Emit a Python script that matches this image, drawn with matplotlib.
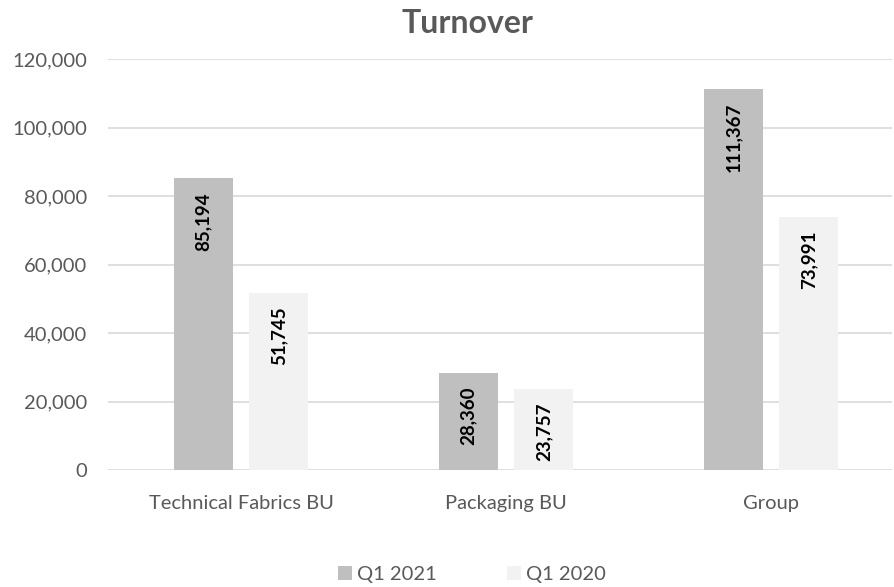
import matplotlib.pyplot as plt
import numpy as np

# data
categories = ['Technical Fabrics BU', 'Packaging BU', 'Group']
series_names = ['Q1 2021', 'Q1 2020']
q1_2021 = [85194, 28360, 111367]
q1_2020 = [51745, 23757, 73991]
yticks = [0, 20000, 40000, 60000, 80000, 100000, 120000]

colors = ['#BFBFBF', '#F2F2F2']
txt_col = '#595959'
plt.rcParams['font.family'] = ['Lato', 'DejaVu Sans']

fig = plt.figure(figsize=(8.94, 5.87), dpi=100)
ax = fig.add_axes([0.1208, 0.1993, 0.877, 0.700])

x = np.arange(len(categories))
w = 0.225
off = 0.142

for vals, c, sign, name in [(q1_2021, colors[0], -1, series_names[0]),
                            (q1_2020, colors[1], 1, series_names[1])]:
    ax.bar(x + sign * off, vals, width=w, color=c, label=name, zorder=3)
    for xi, v in zip(x, vals):
        ax.annotate(f'{v:,}', (xi + sign * off, v), xytext=(0, -10),
                    textcoords='offset points', rotation=90,
                    ha='center', va='top', fontsize=13.5, fontweight='bold',
                    color='black', zorder=4)

ax.set_ylim(0, 120000)
ax.set_xlim(-0.502, 2.457)
ax.set_yticks(yticks)
ax.set_yticklabels([f'{t:,}' for t in yticks])
ax.set_xticks(x)
ax.set_xticklabels(categories)
ax.tick_params(axis='both', length=0, labelsize=14.5, colors=txt_col)
ax.tick_params(axis='x', pad=18)
ax.tick_params(axis='y', pad=15)
ax.grid(axis='y', color='#D9D9D9', linewidth=1.2, zorder=0)
for s in ax.spines.values():
    s.set_visible(False)

fig.text(0.523, 0.960, 'Turnover', ha='center', va='center',
         fontsize=23, fontweight='bold', color=txt_col)

leg = fig.legend(loc='center', bbox_to_anchor=(0.528, 0.022), ncol=2,
                 frameon=False, fontsize=14.5, handlelength=0.7,
                 handleheight=0.7, handletextpad=0.25, columnspacing=3.5)
for t in leg.get_texts():
    t.set_color(txt_col)

plt.savefig('out.png', dpi=100)
